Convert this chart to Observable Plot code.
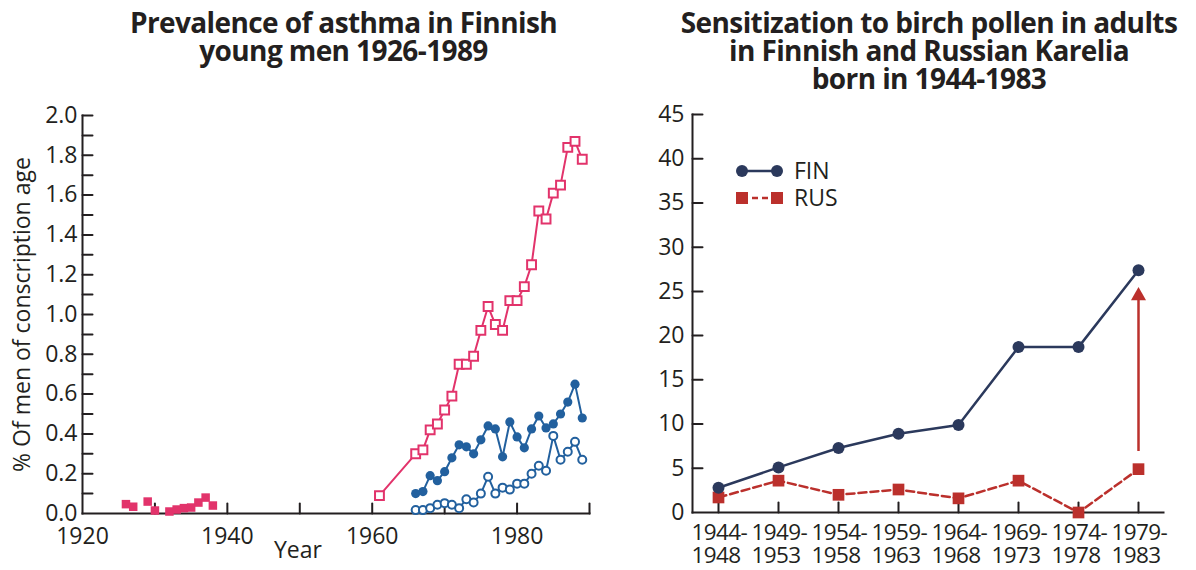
<!DOCTYPE html>
<html><head><meta charset="utf-8">
<script src="https://cdn.jsdelivr.net/npm/d3@7"></script>
<script src="https://cdn.jsdelivr.net/npm/@observablehq/plot@0.6"></script>
<style>
body{margin:0;background:#fff;width:1196px;height:570px;overflow:hidden;position:relative;font-family:"Open Sans",sans-serif;color:#231f20}
.title{position:absolute;font-family:"Open Sans",sans-serif;font-weight:700;font-size:28px;line-height:28px;text-align:center;white-space:nowrap;letter-spacing:-0.6px;top:8px}
#t1{left:0;width:687px}
#t2{left:629px;width:600px}
#p1{position:absolute;left:0;top:95px}
#p2{position:absolute;left:598px;top:95px}
#legend{position:absolute;left:720px;top:150px}
#p2 svg [aria-label="x-axis tick label"] text{letter-spacing:-0.6px}
</style></head>
<body>
<div class="title" id="t1">Prevalence of asthma in Finnish<br>young men 1926-1989</div>
<div class="title" id="t2">Sensitization to birch pollen in adults<br>in Finnish and Russian Karelia<br>born in 1944-1983</div>
<div id="p1"></div>
<div id="p2"></div>
<svg id="legend" width="140" height="70"></svg>
<script>
// ---------- Left chart data ----------
const earlyYears = [1926, 1927, 1929, 1930, 1932, 1933, 1934, 1935, 1936, 1937, 1938];
const earlyValues = [0.047, 0.034, 0.06, 0.015, 0.01, 0.02, 0.027, 0.03, 0.055, 0.08, 0.04];
const lateYears = [1961, 1966, 1967, 1968, 1969, 1970, 1971, 1972, 1973, 1974, 1975, 1976, 1977, 1978, 1979, 1980, 1981, 1982, 1983, 1984, 1985, 1986, 1987, 1988, 1989];
const lateValues = [0.09, 0.30, 0.32, 0.42, 0.45, 0.52, 0.59, 0.75, 0.75, 0.79, 0.92, 1.04, 0.95, 0.92, 1.07, 1.07, 1.14, 1.25, 1.52, 1.48, 1.61, 1.65, 1.84, 1.87, 1.78];
const blueYears = [1966, 1967, 1968, 1969, 1970, 1971, 1972, 1973, 1974, 1975, 1976, 1977, 1978, 1979, 1980, 1981, 1982, 1983, 1984, 1985, 1986, 1987, 1988, 1989];
const filledBlueValues = [0.10, 0.11, 0.19, 0.165, 0.21, 0.28, 0.345, 0.335, 0.30, 0.37, 0.44, 0.425, 0.285, 0.46, 0.385, 0.33, 0.425, 0.49, 0.43, 0.45, 0.50, 0.56, 0.65, 0.48];
const openBlueValues = [0.017, 0.017, 0.027, 0.044, 0.052, 0.044, 0.027, 0.072, 0.055, 0.10, 0.185, 0.10, 0.13, 0.12, 0.15, 0.15, 0.20, 0.24, 0.215, 0.39, 0.27, 0.31, 0.36, 0.27];
const leftXLabels = [1920, 1940, 1960, 1980];
const leftXTicks = [1930, 1940, 1950, 1960, 1970, 1980, 1990];
const leftYLabels = [0, 0.2, 0.4, 0.6, 0.8, 1.0, 1.2, 1.4, 1.6, 1.8, 2.0];
const leftYTicks = [0.1, 0.2, 0.3, 0.4, 0.5, 0.6, 0.7, 0.8, 0.9, 1.0, 1.1, 1.2, 1.3, 1.4, 1.5, 1.6, 1.7, 1.8, 1.9, 2.0];

// ---------- Right chart data ----------
const periods = ["1944-1948", "1949-1953", "1954-1958", "1959-1963", "1964-1968", "1969-1973", "1974-1978", "1979-1983"];
const finValues = [2.8, 5.1, 7.3, 8.9, 9.9, 18.7, 18.7, 27.4];
const rusValues = [1.7, 3.6, 2.0, 2.6, 1.6, 3.6, 0.0, 4.9];
const rightYLabels = [0, 5, 10, 15, 20, 25, 30, 35, 40, 45];
const arrowPeriod = ["1979-1983"];
const arrowFrom = [6.9];
const arrowTo = [24.5];
const legendNames = ["FIN", "RUS"];

const ink = "#231f20";
const pink = "#e2336b";
const blue = "#22609e";
const navy = "#2b395c";
const red = "#bb302c";

const tickShape = {draw(ctx, l) { ctx.moveTo(0, 0); ctx.lineTo(0, -l); }};
const early = earlyYears.map((y, i) => ({year: y, v: earlyValues[i]}));
const late = lateYears.map((y, i) => ({year: y, v: lateValues[i]}));
const filled = blueYears.map((y, i) => ({year: y, v: filledBlueValues[i]}));
const open = blueYears.map((y, i) => ({year: y, v: openBlueValues[i]}));

const styleObj = {fontFamily: "'Open Sans', sans-serif", fontSize: "23px", color: ink, background: "transparent", overflow: "visible"};

const left = Plot.plot({
  width: 598, height: 475,
  marginLeft: 82, marginRight: 9, marginTop: 20, marginBottom: 57,
  style: styleObj,
  x: {domain: [1920, 1990]},
  y: {domain: [0, 2]},
  marks: [
    Plot.axisX(leftXLabels, {tickSize: 0, tickPadding: 14, tickFormat: d => String(d), label: null}),
    Plot.axisY(leftYLabels, {tickSize: 0, tickPadding: 5, tickFormat: d3.format(".1f"), label: null}),
    Plot.vector(leftXTicks, {x: d => d, frameAnchor: "bottom", length: 10, anchor: "start", shape: tickShape, stroke: ink, strokeWidth: 2}),
    Plot.vector(leftYTicks, {y: d => d, frameAnchor: "left", length: 10, rotate: 90, anchor: "start", shape: tickShape, stroke: ink, strokeWidth: 2}),
    Plot.frame({anchor: "left", stroke: ink, strokeWidth: 2}),
    Plot.frame({anchor: "bottom", stroke: ink, strokeWidth: 2}),
    Plot.text(["% Of men of conscription age"], {frameAnchor: "left", textAnchor: "middle", dx: -60, rotate: -90, fontSize: 23, fill: ink}),
    Plot.text(["Year"], {frameAnchor: "bottom", textAnchor: "middle", dx: -38, dy: 44, fontSize: 23, fill: ink}),
    Plot.dot(early, {x: "year", y: "v", symbol: "square", r: 4.8, fill: pink}),
    Plot.line(late, {x: "year", y: "v", stroke: pink, strokeWidth: 2}),
    Plot.dot(late, {x: "year", y: "v", symbol: "square", r: 5, fill: "white", stroke: pink, strokeWidth: 2}),
    Plot.line(open, {x: "year", y: "v", stroke: blue, strokeWidth: 2}),
    Plot.dot(open, {x: "year", y: "v", r: 4, fill: "white", stroke: blue, strokeWidth: 2}),
    Plot.line(filled, {x: "year", y: "v", stroke: blue, strokeWidth: 2}),
    Plot.dot(filled, {x: "year", y: "v", r: 4.6, fill: blue})
  ]
});
document.getElementById("p1").appendChild(left);

const fin = periods.map((p, i) => ({p, v: finValues[i]}));
const rus = periods.map((p, i) => ({p, v: rusValues[i]}));
const arrow = arrowPeriod.map((p, i) => ({p, y1: arrowFrom[i], y2: arrowTo[i]}));

const right = Plot.plot({
  width: 598, height: 475,
  marginLeft: 94, marginRight: 33, marginTop: 19, marginBottom: 58,
  style: styleObj,
  x: {type: "point", domain: periods, padding: 0.405},
  y: {domain: [0, 45]},
  marks: [
    Plot.axisX({tickSize: 0, tickPadding: 11, textAnchor: "start", dx: -27, fontSize: 22.5, lineHeight: 1.03, tickFormat: d => d.replace("-", "-\n"), label: null}),
    Plot.axisY(rightYLabels, {tickSize: 0, tickPadding: 8, label: null}),
    Plot.vector(periods, {x: d => d, frameAnchor: "bottom", length: 10, anchor: "start", shape: tickShape, stroke: ink, strokeWidth: 2}),
    Plot.vector(rightYLabels.slice(1), {y: d => d, frameAnchor: "left", length: 10, rotate: 90, anchor: "start", shape: tickShape, stroke: ink, strokeWidth: 2}),
    Plot.frame({anchor: "left", stroke: ink, strokeWidth: 2}),
    Plot.frame({anchor: "bottom", stroke: ink, strokeWidth: 2}),
    Plot.ruleX(arrow, {x: "p", y1: "y1", y2: "y2", stroke: red, strokeWidth: 2.5}),
    Plot.dot(arrow, {x: "p", y: "y2", symbol: "triangle", r: 5.6, fill: red}),
    Plot.line(rus, {x: "p", y: "v", stroke: red, strokeWidth: 2.5, strokeDasharray: "8,4"}),
    Plot.dot(rus, {x: "p", y: "v", symbol: "square", r: 6.6, fill: red}),
    Plot.line(fin, {x: "p", y: "v", stroke: navy, strokeWidth: 2.5}),
    Plot.dot(fin, {x: "p", y: "v", r: 6, fill: navy})
  ]
});
document.getElementById("p2").appendChild(right);

// legend
const lg = d3.select("#legend");
const rows = [
  {name: legendNames[0], color: navy, dash: null, shape: "circle"},
  {name: legendNames[1], color: red, dash: "6,4", shape: "square"}
];
rows.forEach((r, i) => {
  const y = 21 + i * 27;
  lg.append("line").attr("x1", 22).attr("x2", 57).attr("y1", y).attr("y2", y)
    .attr("stroke", r.color).attr("stroke-width", 2.5).attr("stroke-dasharray", r.dash);
  [22, 57].forEach(x => {
    if (r.shape === "circle") lg.append("circle").attr("cx", x).attr("cy", y).attr("r", 6).attr("fill", r.color);
    else lg.append("rect").attr("x", x - 6).attr("y", y - 6).attr("width", 12).attr("height", 12).attr("fill", r.color);
  });
  lg.append("text").attr("x", 74).attr("y", y + 8).attr("font-size", 23).attr("font-family", "'Open Sans', sans-serif").attr("fill", ink).text(r.name);
});
</script>
</body></html>
